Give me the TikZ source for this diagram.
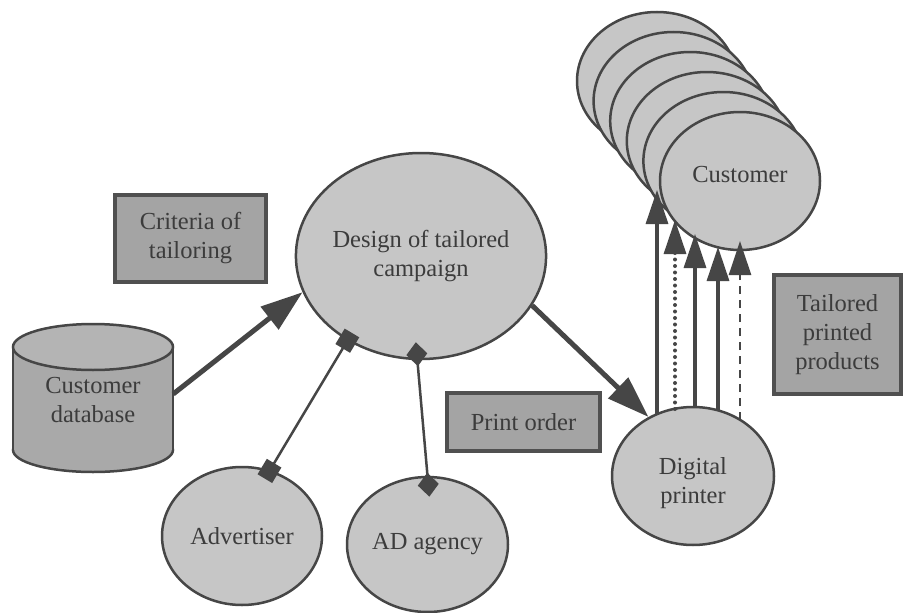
\documentclass[tikz,border=0pt]{standalone}
\usepackage{fontspec}
\setmainfont{LiberationSerif}[Extension=.ttf, UprightFont=*-Regular, BoldFont=*-Bold, ItalicFont=*-Italic]
\usetikzlibrary{shapes.geometric,arrows.meta}
\definecolor{ellfill}{HTML}{C6C6C6}
\definecolor{boxfill}{HTML}{A4A4A4}
\definecolor{linec}{HTML}{464646}
\definecolor{boxline}{HTML}{505050}
\definecolor{txt}{HTML}{3C3C3C}
\definecolor{dbtop}{HTML}{B4B4B4}
\definecolor{dbbody}{HTML}{A9A9A9}
\begin{document}
\begin{tikzpicture}[x=1pt,y=-1pt,
  font=\rmfamily\fontsize{24.5}{29}\selectfont, text=txt,
  ell/.style={ellipse, draw=linec, fill=ellfill, line width=2.5pt, inner sep=0pt, align=center},
  lbl/.style={rectangle, draw=boxline, fill=boxfill, line width=4pt, inner sep=0pt, align=center},
  bigarrow/.style={draw=linec, line width=5pt, -{Triangle[length=42pt,width=28pt]}},
  varrow/.style={draw=linec, line width=3.2pt, -{Triangle[length=34pt,width=22pt]}},
  sqconn/.style={draw=linec, line width=2.5pt, {Square[length=18pt 0,width=17pt 0]}-{Square[length=18pt 0,width=17pt 0]}},
  dmconn/.style={draw=linec, line width=2.5pt, {Diamond[length=24pt 0,width=21pt 0]}-{Diamond[length=24pt 0,width=21pt 0]}}]
\useasboundingbox[fill=white] (0,0) rectangle (903,613);

% customer database cylinder
\fill[dbbody, draw=linec, line width=2.5pt] (93,450) ellipse [x radius=80pt, y radius=22pt];
\fill[dbbody] (13,347) rectangle (173,450);
\draw[linec, line width=2.5pt] (13,347) -- (13,452) (173,347) -- (173,452);
\filldraw[fill=dbtop, draw=linec, line width=2.5pt] (93,347) ellipse [x radius=80pt, y radius=23pt];
\node[minimum width=160pt, minimum height=126pt, inner sep=0pt, align=center] (db) at (93,400) {Customer\\database};

% boxes
\node[lbl, minimum width=151pt, minimum height=87pt] (crit) at (190.5,238.5) {Criteria of\\tailoring};
\node[lbl, minimum width=153pt, minimum height=58pt] (order) at (523.5,422) {Print order};
\node[lbl, minimum width=127pt, minimum height=119pt] (prod) at (837.5,334.5) {Tailored\\printed\\products};

% ellipses
\node[ell, minimum width=250pt, minimum height=206pt] (design) at (421,256) {Design of tailored\\campaign};
\node[ell, minimum width=160pt, minimum height=138pt] (adv) at (242,536) {Advertiser};
\node[ell, minimum width=161pt, minimum height=135pt] (agency) at (427.5,544.5) {AD agency};
\node[ell, minimum width=162pt, minimum height=138pt] (printer) at (693,476) {};
\node[align=center, inner sep=0pt] (printerlbl) at (693,483) {Digital\\printer};

% customers stack
\node[ell, minimum width=160pt, minimum height=138pt] (c1) at (657,81) {};
\node[ell, minimum width=160pt, minimum height=138pt] (c2) at (673.6,101) {};
\node[ell, minimum width=160pt, minimum height=138pt] (c3) at (690.2,121) {};
\node[ell, minimum width=160pt, minimum height=138pt] (c4) at (706.8,141) {};
\node[ell, minimum width=160pt, minimum height=138pt] (c5) at (723.4,161) {};
\node[ell, minimum width=160pt, minimum height=138pt] (c6) at (740,181) {};
\node[inner sep=0pt] (custlbl) at (740,175) {Customer};

% main arrows
\draw[bigarrow] ([yshift=6pt]db.east) -- (design.197);
\draw[bigarrow] (design.336) -- (printer.127);

% connectors with markers
\draw[sqconn, shorten <=-9pt, shorten >=-10pt] (design.229) -- (adv.67);
\draw[dmconn, shorten <=-18pt, shorten >=-21pt] (design.268) -- (agency.90);

% vertical arrows to customers
\coordinate (b1) at (657,414); \coordinate (t1) at (657,190);
\coordinate (b2) at (675,409); \coordinate (t2) at (675,220);
\coordinate (b3) at (695,407); \coordinate (t3) at (695,234);
\coordinate (b4) at (718,410); \coordinate (t4) at (718,247);
\coordinate (b5) at (740,420); \coordinate (t5) at (740,241);
\draw[varrow] (b1) -- (t1);
\draw[draw=linec, line width=4pt, line cap=round, dash pattern=on 0pt off 6.5pt] (b2) -- ([yshift=-30pt]t2);
\draw[varrow] ([yshift=-34pt]t2) -- (t2);
\draw[varrow] (b3) -- (t3);
\draw[varrow] (b4) -- (t4);
\draw[varrow, dash pattern=on 8pt off 6pt, line width=2.5pt] (b5) -- (t5);
\end{tikzpicture}
\end{document}
